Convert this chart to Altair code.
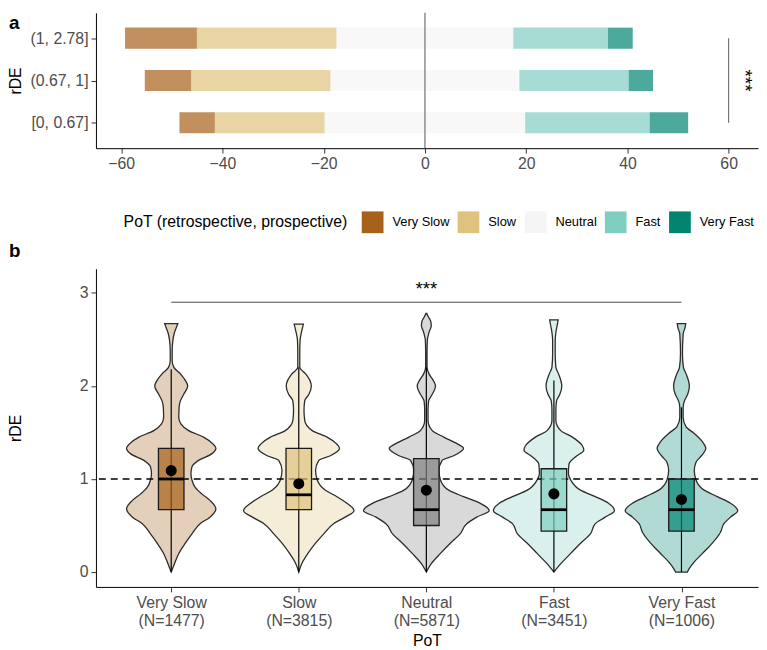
import json
import altair as alt
import pandas as pd

FONT = "Liberation Sans"

# ---------------- panel a data ----------------
rde_groups = ["(1, 2.78]", "(0.67, 1]", "[0, 0.67]"]
pot_levels = ["Very Slow", "Slow", "Neutral", "Fast", "Very Fast"]
pct_very_slow = [14.2, 9.2, 7.0]
pct_slow = [27.6, 27.5, 21.7]
pct_neutral = [34.9, 37.3, 39.6]
pct_fast = [18.7, 21.6, 24.6]
pct_very_fast = [4.9, 4.8, 7.6]
x_ticks_a = [-60, -40, -20, 0, 20, 40, 60]

colors_a = ["#a6611a", "#dfc27d", "#f5f5f5", "#80cdc1", "#018571"]
colors_b = ["#a6611a", "#dfc27d", "#808080", "#80cdc1", "#018571"]

# ---------------- panel b data ----------------
pot_n = [1477, 3815, 5871, 3451, 1006]
box_q1 = [0.67, 0.67, 0.50, 0.44, 0.44]
box_median = [1.00, 0.83, 0.67, 0.67, 0.67]
box_q3 = [1.33, 1.33, 1.22, 1.11, 1.00]
whisker_lo = [0.0, 0.0, 0.0, 0.0, 0.0]
whisker_hi = [2.18, 2.20, 2.20, 2.06, 1.77]
mean_rde = [1.09, 0.95, 0.88, 0.84, 0.78]

# violin outlines: rDE value and half width (read in reference pixels)
vio_y_very_slow = [0, 0.09, 0.2, 0.31, 0.41, 0.52, 0.59, 0.68, 0.77, 0.84, 0.91, 0.99, 1.06, 1.13, 1.2,
                   1.27, 1.33, 1.38, 1.45, 1.52, 1.59, 1.66, 1.77, 1.84, 1.91, 2.0, 2.06, 2.13, 2.2,
                   2.27, 2.38, 2.49, 2.575, 2.63, 2.67]
vio_w_very_slow = [0, 3.3, 7.7, 14.3, 21, 29.3, 39.3, 45.3, 39.3, 31, 24.3, 21, 20, 21, 27.7,
                   41, 45.3, 42, 32.7, 17.7, 10, 7.7, 8, 9.3, 12.7, 16.7, 14.3, 9.3, 2.7,
                   1, 1, 1.7, 3.3, 5.3, 6.7]
vio_y_slow = [0, 0.09, 0.2, 0.31, 0.41, 0.52, 0.59, 0.66, 0.74, 0.81, 0.88, 0.99, 1.09, 1.2, 1.25,
              1.33, 1.38, 1.45, 1.52, 1.63, 1.74, 1.84, 1.91, 2.0, 2.06, 2.13, 2.2, 2.35, 2.49,
              2.59, 2.665]
vio_w_slow = [0, 3, 9.3, 17, 25.3, 35.3, 47, 56, 48.7, 38.7, 27, 18.7, 17, 20.3, 32,
              41.3, 38, 28.7, 13.7, 6, 5.3, 6, 10.3, 12.7, 11.3, 7, 1, 1, 1.3,
              3, 4.7]
vio_y_neutral = [0, 0.09, 0.2, 0.31, 0.41, 0.52, 0.59, 0.66, 0.74, 0.81, 0.88, 0.99, 1.09, 1.2, 1.25,
                 1.33, 1.38, 1.45, 1.52, 1.63, 1.74, 1.84, 1.91, 2.0, 2.06, 2.13, 2.2, 2.35, 2.49,
                 2.575, 2.65, 2.7, 2.75, 2.78]
vio_w_neutral = [0, 5, 14.3, 24.3, 34.3, 41, 51, 63.7, 54.3, 37.7, 22.7, 14.3, 12.7, 16, 27.7,
                 37.7, 31, 17.7, 6, 1.7, 1.7, 2.3, 6, 9.3, 7, 2.7, 0.7, 0.7, 1,
                 2.7, 5, 4.3, 1.7, 0.5]
vio_y_fast = [0, 0.09, 0.2, 0.31, 0.41, 0.52, 0.59, 0.66, 0.74, 0.81, 0.88, 0.99, 1.06, 1.16, 1.24,
              1.31, 1.36, 1.45, 1.52, 1.63, 1.74, 1.84, 1.91, 2.0, 2.06, 2.13, 2.2, 2.35, 2.49,
              2.575, 2.65, 2.71]
vio_w_fast = [0, 7, 17, 27, 37, 42, 52, 61.3, 55.3, 42, 27, 17, 14.7, 15.3, 22,
              30.3, 28.7, 18.7, 7, 2, 2, 2.7, 6, 8, 7, 4.7, 2, 1.3, 1.3,
              2, 3.3, 4.3]
vio_y_very_fast = [0, 0.04, 0.11, 0.2, 0.31, 0.43, 0.52, 0.59, 0.66, 0.74, 0.81, 0.88, 0.99, 1.09, 1.18,
                   1.25, 1.33, 1.4, 1.49, 1.56, 1.66, 1.77, 1.84, 1.91, 2.0, 2.06, 2.13, 2.2, 2.35,
                   2.56, 2.63, 2.67]
vio_w_very_fast = [6, 8, 13, 21.3, 31.3, 39.7, 43, 49.7, 57, 49.7, 36.3, 23, 14.7, 13, 14.7,
                   20.3, 24.7, 21.3, 13, 4.7, 1.7, 1.7, 3, 6.3, 8, 7, 4.7, 2, 1,
                   1.7, 3.7, 4.3]
REF_PX_PER_STEP = 129.3  # reference pixels per category step, used to turn widths into axis units

sig_b = {"x": 1, "x2": 5, "y": 2.9, "label": "***"}
sig_a = {"x": 60, "y": 1, "y2": 3, "label": "***"}
panel_tags = ["a", "b"]

# ---------------- build tables ----------------
rows = []
for i, g in enumerate(rde_groups):
    vals = [pct_very_slow[i], pct_slow[i], pct_neutral[i], pct_fast[i], pct_very_fast[i]]
    start = -(vals[0] + vals[1] + vals[2] / 2)
    pos = len(rde_groups) - i
    for lvl, v in zip(pot_levels, vals):
        rows.append({"rde": g, "pos": pos, "pot": lvl, "start": start, "end": start + v})
        start += v
bars = pd.DataFrame(rows)

vio_y = [vio_y_very_slow, vio_y_slow, vio_y_neutral, vio_y_fast, vio_y_very_fast]
vio_w = [vio_w_very_slow, vio_w_slow, vio_w_neutral, vio_w_fast, vio_w_very_fast]
vrows = []
for k, lvl in enumerate(pot_levels):
    for yy, ww in zip(vio_y[k], vio_w[k]):
        vrows.append({"pot_b": lvl, "idx": k + 1, "y": yy, "hw": ww / REF_PX_PER_STEP})
violins = pd.DataFrame(vrows)

summ = pd.DataFrame({
    "pot_b": pot_levels, "idx": list(range(1, 6)), "q1": box_q1, "med": box_median,
    "q3": box_q3, "lo": whisker_lo, "hi": whisker_hi, "mean": mean_rde,
})

# ---------------- panel a ----------------
ylab_a = json.dumps(list(reversed(rde_groups))) + "[datum.value - 1]"

xa = alt.X("start:Q", scale=alt.Scale(domain=[-65.0, 65.8], nice=False, zero=False),
           axis=alt.Axis(values=x_ticks_a, title=None, labelPadding=3))
ya = alt.Y("y0:Q", scale=alt.Scale(domain=[0.4, 3.6], nice=False, zero=False),
           axis=alt.Axis(values=[1, 2, 3], labelExpr=ylab_a, title="rDE", titleX=-81,
                         titleBaseline="middle", labelPadding=3))

bar_layer = alt.Chart(bars).transform_calculate(
    y0="datum.pos - 0.25", y1="datum.pos + 0.25"
).mark_rect(opacity=0.7).encode(
    x=xa, x2="end:Q", y=ya, y2="y1:Q",
    color=alt.Color("pot:N", scale=alt.Scale(domain=pot_levels, range=colors_a),
                    legend=alt.Legend(title="PoT (retrospective, prospective)", orient="none",
                                      legendX=28, legendY=201, direction="horizontal",
                                      titleOrient="left", titleFontSize=16, titleLimit=400,
                                      titleFontWeight="normal", titleColor="black",
                                      titleBaseline="middle", titlePadding=14,
                                      labelFontSize=13, labelColor="black", labelOffset=9,
                                      columnPadding=8, symbolType="square", symbolSize=484,
                                      symbolStrokeWidth=0, symbolOpacity=1)),
)

vline = alt.Chart(pd.DataFrame({"x": [0]})).mark_rule(color="#555555", strokeWidth=1).encode(x="x:Q")

sig_a_rule = alt.Chart(pd.DataFrame([sig_a])).mark_rule(color="#333333", strokeWidth=0.8).encode(
    x="x:Q", y="y:Q", y2="y2:Q")
sig_a_text = alt.Chart(pd.DataFrame([sig_a])).transform_calculate(
    tx="datum.x + 3.3", ty="(datum.y + datum.y2) / 2"
).mark_text(angle=90, fontSize=19, color="black", baseline="middle", align="center").encode(
    x="tx:Q", y="ty:Q", text="label:N")

tag_a = alt.Chart(pd.DataFrame({"tag": [panel_tags[0]]})).mark_text(
    align="left", baseline="middle", fontSize=19, fontWeight="bold", color="black"
).encode(x=alt.value(-88), y=alt.value(10), text="tag:N")

panel_a = alt.layer(bar_layer, vline, sig_a_rule, sig_a_text, tag_a).properties(width=670, height=137)

# ---------------- panel b ----------------
xlab_b = json.dumps([[lvl, f"(N={n})"] for lvl, n in zip(pot_levels, pot_n)]) + "[datum.value - 1]"
color_b = alt.Color("pot_b:N", scale=alt.Scale(domain=pot_levels, range=colors_b), legend=None)

xb = alt.X("left:Q", scale=alt.Scale(domain=[0.41, 5.6], nice=False, zero=False),
           axis=alt.Axis(values=[1, 2, 3, 4, 5], labelExpr=xlab_b, title="PoT",
                         labelLineHeight=18, labelPadding=3, titlePadding=4))
yb = alt.Y("y:Q", scale=alt.Scale(domain=[-0.16, 3.26], nice=False, zero=False),
           axis=alt.Axis(values=[0, 1, 2, 3], format="d", title="rDE", titleX=-81,
                         titleBaseline="middle", labelPadding=3))

violin_layer = alt.Chart(violins).transform_calculate(
    left="datum.idx - datum.hw", right="datum.idx + datum.hw"
).mark_area(orient="horizontal", interpolate="monotone", fillOpacity=0.3, stroke="#2b2b2b",
            strokeWidth=1.3, strokeOpacity=1).encode(
    x=xb, x2="right:Q", y=yb, color=color_b, detail="pot_b:N")

dash = alt.Chart(pd.DataFrame({"y": [1.0]})).mark_rule(
    color="black", strokeDash=[7, 5], strokeWidth=1.5).encode(y="y:Q")

whisk = alt.Chart(summ).mark_rule(color="black", strokeWidth=1.2).encode(
    x="idx:Q", y="lo:Q", y2="hi:Q")

box = alt.Chart(summ).transform_calculate(
    bl="datum.idx - 0.1", br="datum.idx + 0.1"
).mark_rect(fillOpacity=0.7, stroke="#1a1a1a", strokeWidth=1.3).encode(
    x="bl:Q", x2="br:Q", y="q1:Q", y2="q3:Q", color=color_b)

med = alt.Chart(summ).transform_calculate(
    bl="datum.idx - 0.1", br="datum.idx + 0.1"
).mark_rule(color="black", strokeWidth=2.8).encode(x="bl:Q", x2="br:Q", y="med:Q")

mean_pt = alt.Chart(summ).mark_point(filled=True, shape="circle", size=125, color="black",
                                     opacity=1).encode(x="idx:Q", y="mean:Q")

sig_b_rule = alt.Chart(pd.DataFrame([sig_b])).mark_rule(color="#333333", strokeWidth=0.9).encode(
    x="x:Q", x2="x2:Q", y="y:Q")
sig_b_text = alt.Chart(pd.DataFrame([sig_b])).transform_calculate(
    tx="(datum.x + datum.x2) / 2", ty="datum.y + 0.04"
).mark_text(fontSize=19, color="black", baseline="bottom", align="center").encode(
    x="tx:Q", y="ty:Q", text="label:N")

tag_b = alt.Chart(pd.DataFrame({"tag": [panel_tags[1]]})).mark_text(
    align="left", baseline="middle", fontSize=19, fontWeight="bold", color="black"
).encode(x=alt.value(-88), y=alt.value(-18), text="tag:N")

panel_b = alt.layer(violin_layer, dash, whisk, box, med, mean_pt, sig_b_rule, sig_b_text,
                    tag_b).properties(width=670, height=322)

chart = alt.vconcat(panel_a, panel_b, spacing=9).resolve_scale(
    x="independent", y="independent", color="independent"
).properties(
    padding={"left": 0, "top": 0, "right": 0, "bottom": 0}
).configure(font=FONT).configure_axis(
    labelFont=FONT, labelFontSize=16, labelColor="#4d4d4d", titleFont=FONT, titleFontSize=16,
    titleFontWeight="normal", titleColor="black", domainColor="black", domainWidth=1,
    tickColor="#333333", tickSize=5, grid=False
).configure_view(stroke=None)

chart.save("out.html", embed_options={"renderer": "svg", "actions": False})
